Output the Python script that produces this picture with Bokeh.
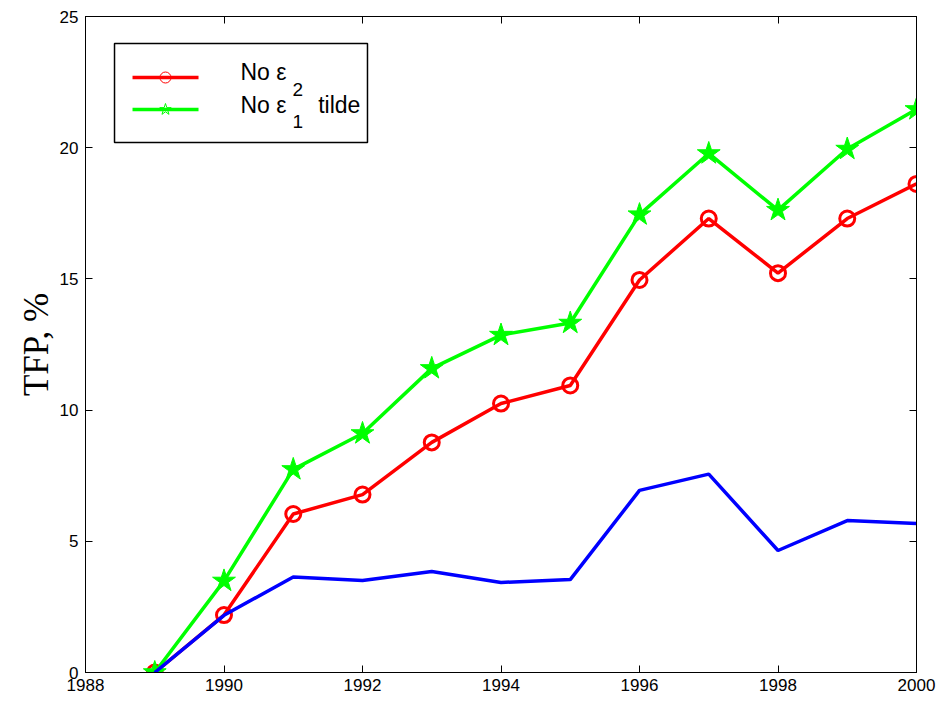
from bokeh.plotting import figure
from bokeh.models import LinearAxis, Range1d, FixedTicker, Label, BoxAnnotation
from bokeh.embed import file_html
from bokeh.resources import INLINE

# ---- data ----
years = [1989, 1990, 1991, 1992, 1993, 1994, 1995, 1996, 1997, 1998, 1999, 2000]
no_eps2 = [0.0, 2.19, 6.04, 6.78, 8.77, 10.25, 10.94, 14.96, 17.30, 15.22, 17.30, 18.62]
no_eps1_tilde = [0.0, 3.49, 7.74, 9.11, 11.59, 12.86, 13.32, 17.45, 19.78, 17.62, 19.95, 21.46]
baseline = [0.0, 2.18, 3.64, 3.51, 3.85, 3.43, 3.54, 6.94, 7.56, 4.65, 5.79, 5.68]
x_ticks = [1988, 1990, 1992, 1994, 1996, 1998, 2000]
y_ticks = [0, 5, 10, 15, 20, 25]
legend_labels = ["No ε", "2", "No ε", "1", "tilde"]

RED, GREEN, BLUE = "#ff0000", "#00ff00", "#0000ff"
TICK_FONT = "Liberation Sans"

p = figure(width=952, height=701, output_backend="svg", toolbar_location=None,
           x_range=Range1d(1988, 2000), y_range=Range1d(0, 25),
           min_border_left=85, min_border_right=36, min_border_top=16, min_border_bottom=29,
           x_axis_location=None, y_axis_location=None)
p.xgrid.visible = False
p.ygrid.visible = False
p.outline_line_color = "black"
p.outline_line_width = 1
p.background_fill_color = "white"
p.border_fill_color = "white"

def make_axis(ticks, show_labels):
    ax = LinearAxis(ticker=FixedTicker(ticks=ticks))
    ax.major_tick_in = 7
    ax.major_tick_out = 0
    ax.minor_tick_in = 0
    ax.minor_tick_out = 0
    ax.axis_line_color = "black"
    ax.major_tick_line_color = "black"
    ax.major_label_text_font = TICK_FONT
    ax.major_label_text_font_size = "17px"
    ax.major_label_text_color = "black"
    if show_labels:
        ax.major_label_standoff = 7
    else:
        ax.major_label_overrides = {t: "" for t in ticks}
        ax.major_label_standoff = 0
    return ax

xb = make_axis(x_ticks, True)
xb.major_label_standoff = 6
p.add_layout(xb, "below")
yl = make_axis(y_ticks, True)
yl.axis_label = "TFP, %"
yl.axis_label_text_font = "Liberation Serif"
yl.axis_label_text_font_size = "35px"
yl.axis_label_text_font_style = "normal"
yl.axis_label_text_color = "black"
yl.axis_label_standoff = 1
p.add_layout(yl, "left")
p.add_layout(make_axis(x_ticks, False), "above")
p.add_layout(make_axis(y_ticks, False), "right")

# ---- legend box (under the glyphs; no data passes through it) ----
p.add_layout(BoxAnnotation(left=1988.419, right=1992.072, bottom=20.20, top=23.97,
                           fill_color="white", fill_alpha=1.0,
                           line_color="black", line_alpha=1.0, line_width=1.5,
                           level="underlay"))

# ---- series ----
p.line(years, no_eps2, line_color=RED, line_width=3.5)
p.scatter(years, no_eps2, marker="circle", size=15, fill_color=None,
          line_color=RED, line_width=3)
p.line(years, no_eps1_tilde, line_color=GREEN, line_width=3.5)
p.scatter(years, no_eps1_tilde, marker="star", size=24, fill_color=GREEN,
          line_color=GREEN, line_width=1)
p.line(years, baseline, line_color=BLUE, line_width=3.5)

# ---- legend samples and texts (manual, to show subscripts) ----
lg_x0, lg_x1, lg_xm = 1988.679, 1989.632, 1989.155
lg_y_red, lg_y_green = 22.675, 21.456
p.line([lg_x0, lg_x1], [lg_y_red, lg_y_red], line_color=RED, line_width=3.5)
p.scatter([lg_xm], [lg_y_red], marker="circle", size=11, fill_color=None,
          line_color=RED, line_width=1)
p.line([lg_x0, lg_x1], [lg_y_green, lg_y_green], line_color=GREEN, line_width=3.5)
p.scatter([lg_xm], [lg_y_green], marker="star", size=12, fill_color=None,
          line_color=GREEN, line_width=1)

def lbl(x, y, t, size):
    p.add_layout(Label(x=x, y=y, text=t, text_font=TICK_FONT, text_font_size=size,
                       text_color="black", text_align="left", text_baseline="middle"))

lbl(1990.238, 22.90, legend_labels[0], "23px")
lbl(1990.99, 22.22, legend_labels[1], "19px")
lbl(1990.238, 21.64, legend_labels[2], "23px")
lbl(1990.99, 20.98, legend_labels[3], "19px")
lbl(1991.36, 21.64, legend_labels[4], "23px")

# stray tick label at the far left edge of the reference image
p.add_layout(Label(x=1986.773, y=-0.62, text="0", text_font=TICK_FONT, text_font_size="17px",
                   text_color="black", text_align="center", text_baseline="middle"))

open("out.html", "w").write(file_html(p, INLINE))
